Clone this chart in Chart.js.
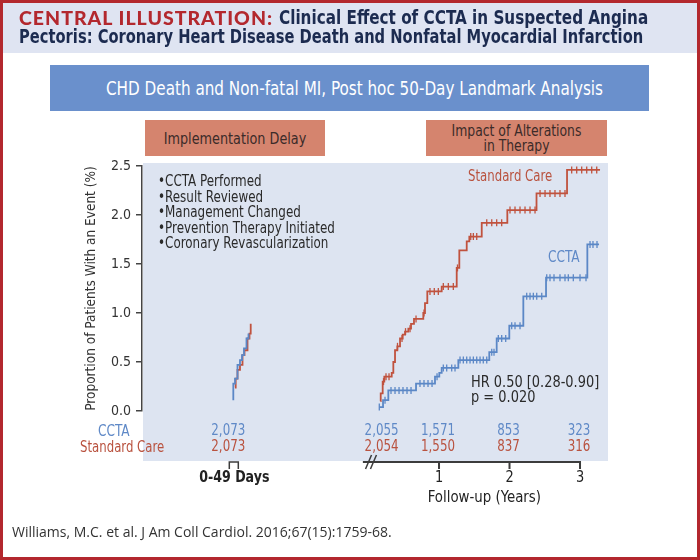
<!DOCTYPE html>
<html><head><meta charset="utf-8">
<script src="https://cdn.jsdelivr.net/npm/chart.js@4.4.1/dist/chart.umd.min.js"></script>
<style>
html,body{margin:0;padding:0;background:#fff}
#page{position:relative;width:700px;height:560px;overflow:hidden;background:#fff}
.abs{position:absolute;white-space:nowrap}
.nar{font-family:"DejaVu Sans Condensed","Liberation Sans Narrow",sans-serif}
.sl{transform-origin:0 50%}
#head{left:0;top:0;width:700px;height:53px;background:#dfe4f2}
.tt{font-size:19.5px;line-height:20px;font-weight:bold;color:#1c2b50;z-index:2}
#t1a{left:19px;top:8px;font-family:Lato,"Open Sans",sans-serif;color:#b3282e;letter-spacing:1px;font-weight:900;font-size:19.5px;line-height:20px;z-index:2}
#t1b{left:279px;top:8px;transform:scaleX(0.868)}
#t2{left:19px;top:27px;transform:scaleX(0.838)}
#banner{left:50px;top:65px;width:599px;height:46px;background:#6a90cc}
#bantx{left:55px;top:65px;width:599px;height:46px;color:#fff;font-size:20px;line-height:46px;text-align:center;transform:scaleX(0.845)}
.box{top:120px;height:36px;background:#d5846e}
.boxt{top:120px;height:36px;color:#3b2b29;font-size:16px;line-height:15px;text-align:center;display:flex;align-items:center;justify-content:center}
#b1,#b1t{left:145px;width:180px}
#b2,#b2t{left:426px;width:181px}
#b1t{transform:scaleX(0.89)}
#b2t{transform:scaleX(0.86)}
#chartwrap{position:absolute;left:0;top:0;width:700px;height:560px;z-index:1}
.ov{z-index:2;font-size:15px;line-height:16px}
#bul{left:158px;top:174px;color:#2a2a2a;line-height:15.5px;transform:scaleX(0.885)}
#frame{left:0;top:0;width:700px;height:560px;box-sizing:border-box;border:3px solid #b3282e;z-index:5}
#cite{left:12px;top:522px;font-family:"Open Sans",sans-serif;font-size:14px;color:#333;z-index:2}
</style></head>
<body>
<div id="page">
  <div id="head" class="abs"></div>
  <div id="t1a" class="abs">CENTRAL ILLUSTRATION:</div>
  <div id="t1b" class="abs nar tt sl">Clinical Effect of CCTA in Suspected Angina</div>
  <div id="t2" class="abs nar tt sl">Pectoris: Coronary Heart Disease Death and Nonfatal Myocardial Infarction</div>
  <div id="banner" class="abs"></div>
  <div id="bantx" class="abs nar">CHD Death and Non-fatal MI, Post hoc 50-Day Landmark Analysis</div>
  <div id="b1" class="abs box"></div>
  <div id="b2" class="abs box"></div>
  <div id="b1t" class="abs boxt nar">Implementation Delay</div>
  <div id="b2t" class="abs boxt nar">Impact of Alterations<br>in Therapy</div>
  <div id="chartwrap"><canvas id="c"></canvas></div>
  <div id="bul" class="abs ov nar sl">•CCTA Performed<br>•Result Reviewed<br>•Management Changed<br>•Prevention Therapy Initiated<br>•Coronary Revascularization</div>
  <div class="abs ov nar sl" style="left:468px;top:168px;color:#b9523f;transform:scaleX(0.87)">Standard Care</div>
  <div class="abs ov nar sl" style="left:548px;top:249px;color:#5f89c7;transform:scaleX(0.9)">CCTA</div>
  <div class="abs ov nar sl" style="left:471px;top:374px;color:#2a2a2a;transform:scaleX(0.96)">HR 0.50 [0.28-0.90]</div>
  <div class="abs ov nar sl" style="left:471px;top:389px;color:#2a2a2a;transform:scaleX(0.96)">p = 0.020</div>
  <div class="abs ov nar sl" style="left:98px;top:423px;color:#5f89c7;transform:scaleX(0.9)">CCTA</div>
  <div class="abs ov nar sl" style="left:80px;top:439px;color:#b9523f;transform:scaleX(0.87)">Standard Care</div>
  <div id="cite" class="abs">Williams, M.C. et al. J Am Coll Cardiol. 2016;67(15):1759-68.</div>
  <div id="frame" class="abs"></div>
</div>
<script>
// ---- data ----
const yTickValues = [0, 0.5, 1.0, 1.5, 2.0, 2.5];
const xTickYears = [1, 2, 3];

// Implementation delay phase (days 0-49)
const cctaEarlyDays = [0, 0, 4.7, 11.6, 18.5, 24.1, 29.6, 36.5, 42.1];
const cctaEarlyPct  = [0.11, 0.28, 0.33, 0.47, 0.52, 0.57, 0.64, 0.74, 0.79];
const scEarlyDays   = [4.7, 6.6, 11.6, 18.5, 25.5, 31.0, 39.3, 44.8, 48.2];
const scEarlyPct    = [0.24, 0.33, 0.42, 0.47, 0.57, 0.62, 0.74, 0.79, 0.89];

// Post-landmark phase (years)
const cctaYears = [0.153,0.206,0.281,0.674,0.943,1.004,1.038,1.274,1.713,1.818,1.997,2.196,2.518,3.104,3.270];
const cctaPct   = [0.04,0.11,0.21,0.28,0.35,0.39,0.44,0.52,0.60,0.74,0.87,1.17,1.36,1.70,1.70];
const scYears = [0.170,0.173,0.201,0.224,0.329,0.352,0.376,0.409,0.447,0.485,0.518,0.565,0.603,0.645,0.777,0.801,0.834,1.038,1.251,1.288,1.393,1.430,1.606,1.969,2.383,2.816,3.284];
const scPct   = [0.10,0.18,0.30,0.35,0.39,0.50,0.62,0.66,0.74,0.78,0.81,0.84,0.89,0.94,1.00,1.10,1.22,1.27,1.46,1.64,1.73,1.78,1.92,2.05,2.22,2.46,2.46];

// censoring marks
const cctaCensYears = [0.153,0.234,0.319,0.376,0.433,0.489,0.546,0.603,0.730,0.787,0.844,0.901,0.972,1.061,1.109,1.180,1.227,1.298,1.345,1.393,1.440,1.487,1.535,1.582,1.628,1.677,1.748,1.780,1.841,1.889,1.946,2.031,2.078,2.149,2.244,2.291,2.338,2.386,2.457,2.528,2.574,2.631,2.716,2.787,2.834,2.905,3.000,3.085,3.142,3.184,3.241];
const cctaCensPct   = [0.04,0.11,0.21,0.21,0.21,0.21,0.21,0.21,0.28,0.28,0.28,0.28,0.35,0.44,0.44,0.44,0.44,0.52,0.52,0.52,0.52,0.52,0.52,0.52,0.52,0.52,0.60,0.60,0.74,0.74,0.74,0.87,0.87,0.87,1.17,1.17,1.17,1.17,1.17,1.36,1.36,1.36,1.36,1.36,1.36,1.36,1.36,1.36,1.70,1.70,1.70];
const scCensYears = [0.213,0.248,0.291,0.411,0.475,0.525,0.589,0.674,0.787,0.872,0.933,0.990,1.061,1.132,1.203,1.262,1.450,1.487,1.535,1.677,1.748,1.818,1.889,2.007,2.078,2.149,2.220,2.291,2.362,2.433,2.504,2.574,2.645,2.716,2.787,2.882,2.953,3.024,3.095,3.166,3.237];
const scCensPct   = [0.30,0.35,0.35,0.66,0.74,0.81,0.84,0.94,1.00,1.22,1.22,1.22,1.27,1.27,1.27,1.46,1.78,1.78,1.78,1.92,1.92,1.92,1.92,2.05,2.05,2.05,2.05,2.05,2.05,2.22,2.22,2.22,2.22,2.22,2.22,2.46,2.46,2.46,2.46,2.46,2.46];

// numbers at risk
const riskDays = [0];
const riskYears = [0.2, 1, 2, 3];
const cctaRiskEarly = [2073];
const scRiskEarly = [2073];
const cctaRisk = [2055, 1571, 853, 323];
const scRisk = [2054, 1550, 837, 316];

// ---- styling ----
const RED = '#c0523e', BLUE = '#5b87c6';
const RED_TXT = '#b9523f', BLUE_TXT = '#5f89c7';
const NARROW = '"DejaVu Sans Condensed","Liberation Sans Narrow",sans-serif';
Chart.defaults.font.family = NARROW;

const pts = (xs, ys) => xs.map((x, i) => ({x, y: ys[i]}));
const fmt = v => v.toLocaleString('en-US');
function sText(ctx, txt, x, y, sx) {
  ctx.save(); ctx.translate(x, y); ctx.scale(sx, 1); ctx.fillText(txt, 0, 0); ctx.restore();
}

const decor = {
  id: 'decor',
  beforeDraw(chart) {
    const {ctx, chartArea: a} = chart;
    ctx.save();
    ctx.fillStyle = '#dde4f1';
    ctx.fillRect(a.left + 1, a.top - 3, a.right - a.left - 1, a.bottom + 50 - (a.top - 3));
    ctx.restore();
  },
  afterDraw(chart) {
    const {ctx, chartArea: a, scales} = chart;
    const xs = scales.x, xd = scales.xd, b = a.bottom;
    ctx.save();
    ctx.font = '15px ' + NARROW;
    ctx.textAlign = 'center';
    ctx.textBaseline = 'middle';
    // numbers at risk
    ctx.fillStyle = BLUE_TXT;
    riskDays.forEach((d, i) => sText(ctx, fmt(cctaRiskEarly[i]), xd.getPixelForValue(d) - 5, b + 20, 0.88));
    riskYears.forEach((t, i) => sText(ctx, fmt(cctaRisk[i]), xs.getPixelForValue(t) - 1, b + 20, 0.88));
    ctx.fillStyle = RED_TXT;
    riskDays.forEach((d, i) => sText(ctx, fmt(scRiskEarly[i]), xd.getPixelForValue(d) - 5, b + 36, 0.88));
    riskYears.forEach((t, i) => sText(ctx, fmt(scRisk[i]), xs.getPixelForValue(t) - 1, b + 36, 0.88));
    // bottom axis (follow-up years)
    const ay = b + 51;
    ctx.strokeStyle = '#3c3c3c';
    ctx.lineWidth = 2;
    ctx.beginPath();
    ctx.moveTo(xs.getPixelForValue(-0.08), ay);
    ctx.lineTo(xs.getPixelForValue(3) + 1, ay);
    xTickYears.forEach(t => {
      const p = xs.getPixelForValue(t);
      ctx.moveTo(p, ay); ctx.lineTo(p, ay + 7);
    });
    ctx.stroke();
    // axis break
    ctx.lineWidth = 1.5;
    ctx.beginPath();
    [0.0, 0.07].forEach(t => {
      const p = xs.getPixelForValue(t);
      ctx.moveTo(p - 3, ay + 7); ctx.lineTo(p + 3, ay - 7);
    });
    ctx.stroke();
    ctx.fillStyle = '#222';
    ctx.font = '16px ' + NARROW;
    xTickYears.forEach(t => sText(ctx, String(t), xs.getPixelForValue(t), b + 67, 0.9));
    ctx.font = '16.5px ' + NARROW;
    sText(ctx, 'Follow-up (Years)', (xs.getPixelForValue(0.2) + xs.getPixelForValue(3)) / 2 + 3, b + 87, 0.9);
    // 0-49 days bracket
    const d0 = xd.getPixelForValue(0);
    ctx.lineWidth = 1.5;
    ctx.beginPath();
    ctx.moveTo(d0 - 4, ay + 7); ctx.lineTo(d0 - 4, ay); ctx.lineTo(d0 + 5, ay); ctx.lineTo(d0 + 5, ay + 7);
    ctx.stroke();
    ctx.font = 'bold 16.5px ' + NARROW;
    sText(ctx, '0-49 Days', d0 + 1, b + 67, 0.85);
    ctx.restore();
  }
};

new Chart(document.getElementById('c'), {
  type: 'line',
  data: {
    datasets: [
      {label: 'CCTA (0-49 days)', xAxisID: 'xd', data: pts(cctaEarlyDays, cctaEarlyPct), stepped: true, borderColor: BLUE, borderWidth: 1.8, pointRadius: 0, fill: false},
      {label: 'Standard Care (0-49 days)', xAxisID: 'xd', data: pts(scEarlyDays, scEarlyPct), stepped: true, borderColor: RED, borderWidth: 1.8, pointRadius: 0, fill: false},
      {label: 'Standard Care', xAxisID: 'x', data: pts(scYears, scPct), stepped: true, borderColor: RED, borderWidth: 1.8, pointRadius: 0, fill: false},
      {label: 'CCTA', xAxisID: 'x', data: pts(cctaYears, cctaPct), stepped: true, borderColor: BLUE, borderWidth: 1.8, pointRadius: 0, fill: false},
      {type: 'scatter', label: 'SC censored', xAxisID: 'x', data: pts(scCensYears, scCensPct), showLine: false, pointStyle: 'line', rotation: 90, pointRadius: 3.5, borderColor: RED, borderWidth: 1.3},
      {type: 'scatter', label: 'CCTA censored', xAxisID: 'x', data: pts(cctaCensYears, cctaCensPct), showLine: false, pointStyle: 'line', rotation: 90, pointRadius: 3.5, borderColor: BLUE, borderWidth: 1.3}
    ]
  },
  options: {
    responsive: true,
    maintainAspectRatio: false,
    animation: false,
    layout: {padding: {left: 80, right: 92, top: 166, bottom: 149}},
    plugins: {legend: {display: false}, tooltip: {enabled: false}},
    scales: {
      x: {type: 'linear', min: -3.213, max: 3.397, display: false},
      xd: {type: 'linear', min: -252.8, max: 1037.4, display: false},
      y: {
        type: 'linear', position: 'left', min: 0, max: 2.5,
        afterBuildTicks: s => { s.ticks = yTickValues.map(v => ({value: v})); },
        afterFit: s => { s.width = 62; },
        border: {display: true, color: '#444', width: 1.5},
        grid: {display: true, drawOnChartArea: false, drawTicks: true, tickLength: 6, color: '#444', lineWidth: 1.5},
        ticks: {color: '#333', font: {size: 14}, padding: 5, callback: v => Number(v).toFixed(1)},
        title: {display: true, text: 'Proportion of Patients With an Event (%)', color: '#333', font: {size: 13.5}, padding: {top: 3, bottom: 0}}
      }
    }
  },
  plugins: [decor]
});
</script>
</body></html>
